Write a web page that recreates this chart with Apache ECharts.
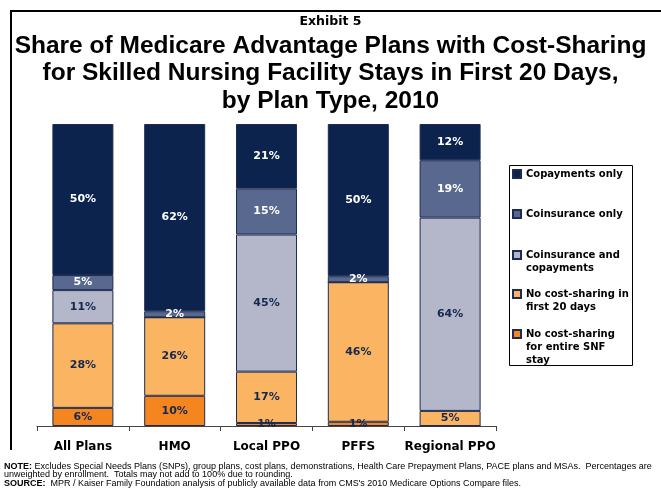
<!DOCTYPE html>
<html lang="en">

<head>
    <meta charset="UTF-8">
    <title>Exhibit 5</title>
    <script src="https://cdn.jsdelivr.net/npm/echarts@6/dist/echarts.min.js"></script>
    <style>
        html, body { margin: 0; padding: 0; background: #fff; }
    </style>
</head>

<body>
    <div id="chart" style="width:661px;height:493px;"></div>
    <script>
        // values in percent, bottom segment first
        let categories = ['All Plans', 'HMO', 'Local PPO', 'PFFS', 'Regional PPO'];
        let noCostEntireStay = [6, 10, 1, 1.4, 0];
        let noCostFirst20 = [28, 26, 17, 46.2, 5];
        let coinsAndCopay = [11, 0, 45.4, 0, 64];
        let coinsOnly = [5, 2, 15.2, 2, 19];
        let copayOnly = [50, 62, 21.4, 50.4, 12];

        let names = {
            copay: 'Copayments only',
            coins: 'Coinsurance only',
            both: 'Coinsurance and\ncopayments',
            first20: 'No cost-sharing in\nfirst 20 days',
            entire: 'No cost-sharing\nfor entire SNF\nstay'
        };

        let navyText = '#15284f';

        function seg(name, data, color, textColor) {
            return {
                name: name,
                type: 'bar',
                stack: 'all',
                barWidth: 61,
                data: data,
                itemStyle: { color: color, borderColor: '#1d2c50', borderWidth: 1 },
                label: {
                    show: true,
                    position: 'inside',
                    color: textColor,
                    fontFamily: 'DejaVu Sans',
                    fontWeight: 'bold',
                    fontSize: 11,
                    formatter: function (p) {
                        return p.value ? Math.round(p.value) + '%' : '';
                    }
                },
                emphasis: { disabled: true }
            };
        }

        // one legend per entry so the square lines up with the first text line
        function legendItem(name, lines, firstLineY) {
            let h = lines == 1 ? 8 : lines * 13;
            let icon = lines == 1 ? 'rect' : 'path://M0,0L0,0M0,' + h + 'L0,' + h + 'M0,2.5L8,2.5L8,10.5L0,10.5Z';
            return {
                left: 512,
                top: firstLineY - 6.5,
                padding: 0,
                itemWidth: 8,
                itemHeight: h,
                selectedMode: false,
                textStyle: { fontFamily: 'DejaVu Sans', fontWeight: 'bold', fontSize: 10, lineHeight: 13, color: '#000' },
                data: [{ name: name, icon: icon }]
            };
        }

        let my_chart = echarts.init(document.getElementById('chart'));
        let option = {
            animation: false,
            title: [{
                text: 'Exhibit 5',
                left: 'center',
                top: 10,
                textStyle: { fontFamily: 'DejaVu Sans', fontWeight: 'bold', fontSize: 12.5, color: '#000' }
            }, {
                text: 'Share of Medicare Advantage Plans with Cost-Sharing\nfor Skilled Nursing Facility Stays in First 20 Days,\nby Plan Type, 2010',
                left: 'center',
                top: 27,
                textStyle: { fontFamily: 'Liberation Sans', fontWeight: 'bold', fontSize: 24.5, lineHeight: 27.5, color: '#000' }
            }, {
                text: '{b|NOTE:} Excludes Special Needs Plans (SNPs), group plans, cost plans, demonstrations, Health Care Prepayment Plans, PACE plans and MSAs.  Percentages are\nunweighted by enrollment.  Totals may not add to 100% due to rounding.\n{b|SOURCE:}  MPR / Kaiser Family Foundation analysis of publicly available data from CMS\'s 2010 Medicare Options Compare files.',
                left: 4,
                top: 462,
                padding: 0,
                textStyle: {
                    fontFamily: 'Liberation Sans', fontWeight: 'normal', fontSize: 9, lineHeight: 8.5, color: '#000',
                    rich: { b: { fontFamily: 'Liberation Sans', fontWeight: 'bold', fontSize: 9, lineHeight: 8.5, color: '#000' } }
                }
            }],
            legend: [
                legendItem(names.copay, 1, 174),
                legendItem(names.coins, 1, 214),
                legendItem(names.both, 2, 254),
                legendItem(names.first20, 2, 293),
                legendItem(names.entire, 3, 333)
            ],
            grid: { left: 37, right: 165, top: 124, bottom: 67 },
            xAxis: {
                type: 'category',
                data: categories,
                axisLine: { lineStyle: { color: '#444', width: 1 } },
                axisTick: { show: true, alignWithLabel: false, length: 5, lineStyle: { color: '#444' } },
                axisLabel: { margin: 15, color: '#000', fontFamily: 'DejaVu Sans', fontWeight: 'bold', fontSize: 12, interval: 0 }
            },
            yAxis: {
                type: 'value',
                min: 0,
                max: 100,
                show: false
            },
            graphic: [{
                type: 'line',
                shape: { x1: 11, y1: 10, x2: 11, y2: 450 },
                style: { stroke: '#000', lineWidth: 2 }
            }, {
                type: 'line',
                shape: { x1: 10, y1: 11, x2: 661, y2: 11 },
                style: { stroke: '#000', lineWidth: 2 }
            }, {
                // legend frame
                type: 'rect',
                shape: { x: 509.5, y: 165.5, width: 123, height: 200 },
                style: { fill: 'none', stroke: '#000', lineWidth: 1 }
            }],
            series: [
                seg(names.entire, noCostEntireStay, '#f5861f', navyText),
                seg(names.first20, noCostFirst20, '#fbb461', navyText),
                seg(names.both, coinsAndCopay, '#b4b7c9', navyText),
                seg(names.coins, coinsOnly, '#58688f', '#fff'),
                seg(names.copay, copayOnly, '#0b234d', '#fff')
            ]
        };
        my_chart.setOption(option);
    </script>
</body>

</html>
